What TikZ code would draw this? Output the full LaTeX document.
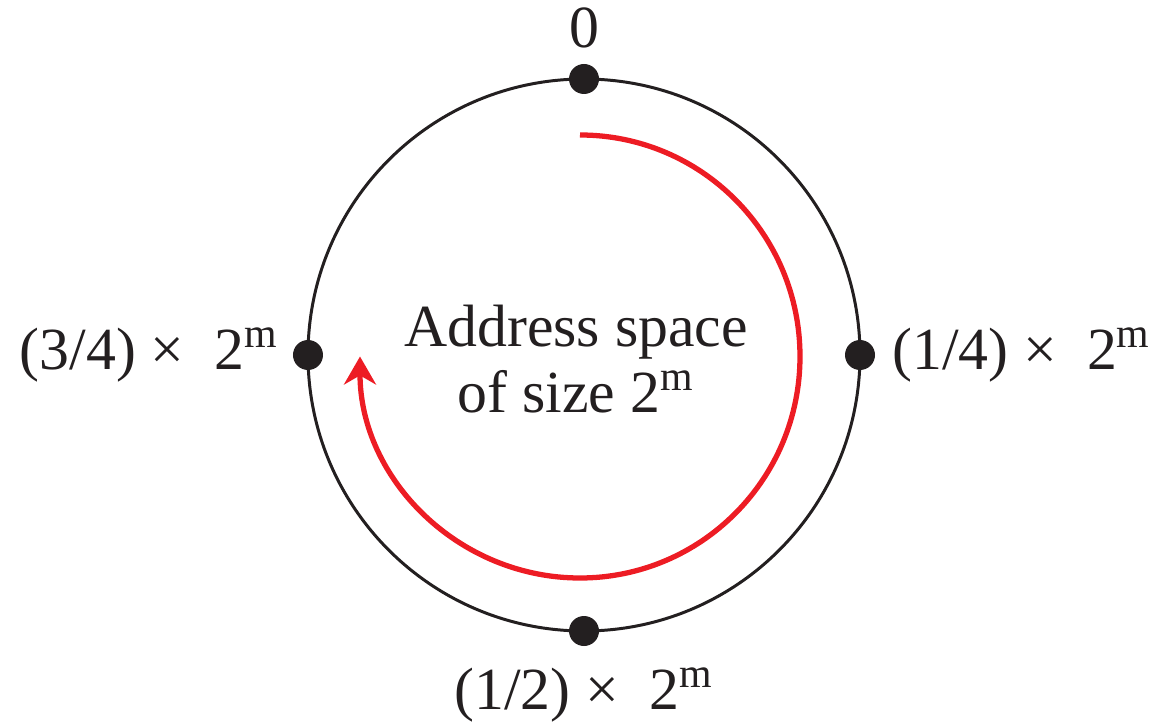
\documentclass[tikz,border=0pt]{standalone}
\usepackage{fontspec}
\setmainfont{Liberation Serif}
\usepackage{xcolor}
\usetikzlibrary{arrows.meta, positioning}

\definecolor{ink}{HTML}{231F20}
\definecolor{ringred}{HTML}{ED1C24}

\begin{document}
\begin{tikzpicture}[
    dot/.style={circle, fill=ink, inner sep=0pt, minimum size=3mm},
    tag/.style={inner sep=0pt, text=ink, font=\fontsize{17}{19}\selectfont},
    ring/.style={draw=ink, line width=0.85pt},
    sweep/.style={draw=ringred, line width=1.5pt, -{Stealth[length=2.8mm, width=3.2mm]}}
]
    \useasboundingbox (-5.84,-3.67) rectangle (5.74,3.55);

    % address ring
    \draw [ring] (0,0) circle (2.76);
    \draw [sweep] (-0.04,2.2) arc[start angle=90, end angle=-180, x radius=2.2, y radius=2.215];

    \node (top) [dot] at (90:2.76) {};
    \node (right) [dot] at (0:2.76) {};
    \node (bottom) [dot] at (-90:2.76) {};
    \node (left) [dot] at (180:2.76) {};

    \node (zero) [tag, above=1.5mm of top] {0};
    \node (quarter) [tag, right=1.6mm of right] {(1/4)~×~~2\textsuperscript{m}};
    \node (half) [tag, below=2mm of bottom] {(1/2)~×~~2\textsuperscript{m}};
    \node (threeq) [tag, left=1.3mm of left] {(3/4)~×~~2\textsuperscript{m}};

    \node (space) [tag, align=center] at (-0.08,-0.04) {Address space\\of size 2\textsuperscript{m}};
\end{tikzpicture}
\end{document}
